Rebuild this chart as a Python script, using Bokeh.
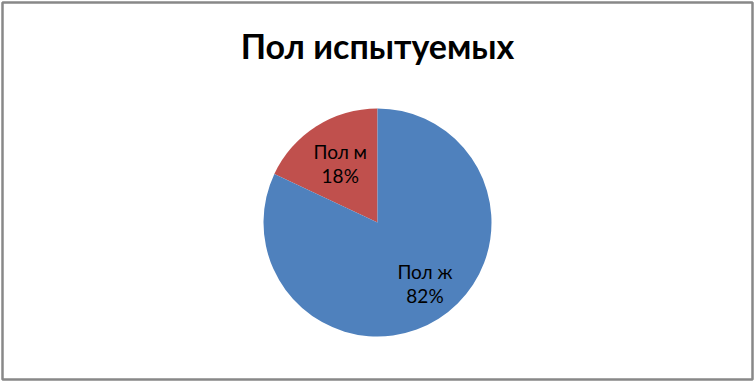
import numpy as np
from bokeh.plotting import figure
from bokeh.models import ColumnDataSource, Range1d
from bokeh.core.properties import value
from bokeh.embed import file_html
from bokeh.resources import INLINE

# Data
categories = ["Пол м", "Пол ж"]
shares = [18, 82]
colors = ["#C0504D", "#4F81BD"]
title_text = "Пол испытуемых"

W, H = 754, 381
cx, cy, R = 377, 159, 114

p = figure(width=W, height=H, x_range=Range1d(0, W), y_range=Range1d(0, H),
           output_backend="svg", toolbar_location=None, min_border=0)
p.axis.visible = False
p.grid.visible = False
p.outline_line_color = None
p.background_fill_color = "white"
p.border_fill_color = "white"

# Slices start at 12 o'clock; first category runs counter-clockwise
vals = np.array(shares, dtype=float)
frac = vals / vals.sum()
ends = np.pi / 2 + 2 * np.pi * np.cumsum(frac)
starts = np.concatenate([[np.pi / 2], ends[:-1]])
mids = (starts + ends) / 2

src = ColumnDataSource(dict(start=starts, end=ends, color=colors))
p.wedge(x=cx, y=cy, radius=R, start_angle="start", end_angle="end",
        fill_color="color", line_color=None, source=src)

# Labels placed along the mid angle of each slice
lr = np.array([0.61, 0.63]) * R
lx = cx + lr * np.cos(mids) + np.array([0, 9])
ly = cy + lr * np.sin(mids)
pct = [f"{int(round(f * 100))}%" for f in frac]
lab = ColumnDataSource(dict(x=lx, y1=ly + 12, y2=ly - 12, name=categories, pct=pct))
for ycol, tcol in (("y1", "name"), ("y2", "pct")):
    p.text(x="x", y=ycol, text=tcol, source=lab, text_align="center",
           text_baseline="middle", text_font=value("Lato"),
           text_font_size="19px", text_color="black")

# Title
p.text(x=[W / 2], y=[H - 45], text=[title_text], text_align="center",
       text_baseline="middle", text_font=value("Lato"),
       text_font_size="34px", text_font_style="bold", text_color="black")

# Chart border
p.quad(left=[2], right=[W - 2], bottom=[2], top=[H - 2],
       fill_color=None, line_color="#888888", line_width=2.5)

open("out.html", "w").write(file_html(p, INLINE))
